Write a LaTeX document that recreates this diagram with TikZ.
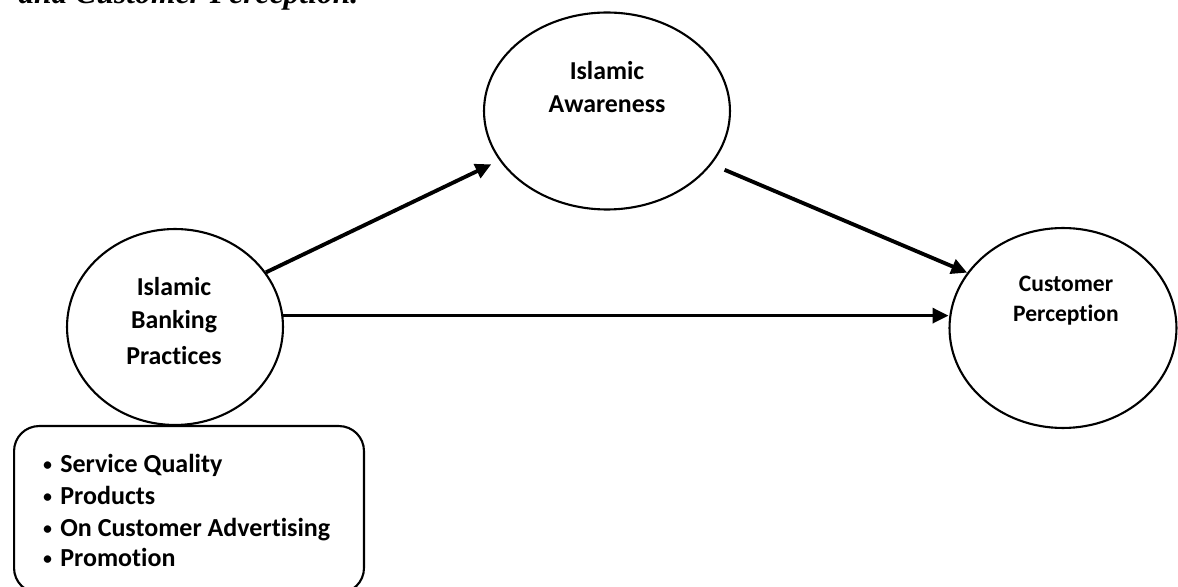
\documentclass[tikz,border=0pt]{standalone}
\usepackage{fontspec}
\setmainfont{Carlito}[Ligatures=CommonOff]
\newfontfamily\titlefont{Liberation Serif}
\usetikzlibrary{shapes.geometric,arrows.meta}
\tikzset{
  oval/.style={draw, ellipse, line width=1.2pt, inner sep=0pt},
  lbl/.style={anchor=base, font=\fontsize{14.7}{17}\selectfont\bfseries, inner sep=0pt},
  lblsmall/.style={anchor=base, font=\fontsize{13.4}{16}\selectfont\bfseries, inner sep=0pt},
  item/.style={anchor=base west, font=\fontsize{14.8}{17}\selectfont\bfseries, inner sep=0pt},
  dot/.style={anchor=base west, font=\fontsize{12}{14}\selectfont, inner sep=0pt},
  flow/.style={line width=2.2pt, -{Triangle[length=9pt,width=8.5pt]}},
  flowthin/.style={line width=1.8pt, -{Triangle[length=9pt,width=8.5pt]}},
  listbox/.style={draw, line width=1.2pt, rounded corners=0.5cm, inner sep=0pt}
}
\begin{document}
\begin{tikzpicture}[x=0.02cm,y=-0.02cm]
\useasboundingbox (0,0) rectangle (1178,587);
% title fragment (cut at top)
\node[anchor=base west, inner sep=0pt, font=\fontsize{18}{20}\selectfont\titlefont\bfseries\itshape] (title) at (18,4) {and Customer Perception.};
% ellipses
\node[oval, minimum width=4.32cm, minimum height=3.92cm] (L) at (175,327) {};
\node[oval, minimum width=4.92cm, minimum height=3.94cm] (T) at (607,111) {};
\node[oval, minimum width=4.54cm, minimum height=4.0cm] (C) at (1063,328) {};
% labels
\node[lbl] (l1) at (174,296) {Islamic};
\node[lbl] (l2) at (174,329) {Banking};
\node[lbl] (l3) at (174,365) {Practices};
\node[lbl] (t1) at (607,80) {Islamic};
\node[lbl] (t2) at (607,113) {Awareness};
\node[lblsmall] (c1) at (1066,292) {Customer};
\node[lblsmall] (c2) at (1066,322) {Perception};
% list box
\node[listbox, anchor=north west, minimum width=7cm, minimum height=3.34cm] (B) at (13,425) {};
\node[dot] (d1) at (42,472) {\textbullet};
\node[dot] (d2) at (42,504) {\textbullet};
\node[dot] (d3) at (42,536) {\textbullet};
\node[dot] (d4) at (42,566) {\textbullet};
\node[item] (b1) at (60,473) {Service Quality};
\node[item] (b2) at (60,505) {Products};
\node[item] (b3) at (60,537) {On Customer Advertising};
\node[item] (b4) at (60,567) {Promotion};
% connectors
\draw[flow] (L.31) -- ([xshift=-0.22cm]T.207);
\draw[flow, shorten <=0.28cm] (T.333) -- (C.150);
\draw[flowthin] (L.6) -- (L.6 -| C.west);
\end{tikzpicture}
\end{document}
